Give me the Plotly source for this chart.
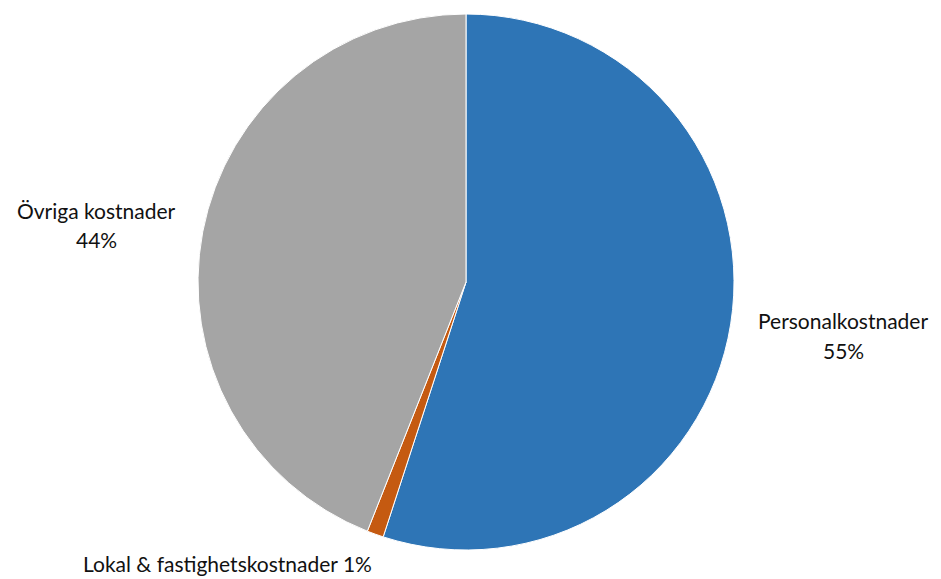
import plotly.graph_objects as go

categories = ["Personalkostnader", "Lokal & fastighetskostnader", "Övriga kostnader"]
values = [55, 1, 44]
colors = ["#2E75B6", "#C55A11", "#A5A5A5"]

W, H = 941, 579
OFF = 8  # page body margin offset
cx, cy, r = 466 - OFF, 282 - OFF, 268

fig = go.Figure(go.Pie(
    labels=categories,
    values=values,
    sort=False,
    direction="clockwise",
    rotation=0,
    marker=dict(colors=colors, line=dict(color="white", width=1)),
    textinfo="none",
    hoverinfo="label+percent",
    domain=dict(x=[(cx - r) / W, (cx + r) / W], y=[1 - (cy + r) / H, 1 - (cy - r) / H]),
    showlegend=False,
))

font = dict(family="Lato, Carlito, 'Open Sans', sans-serif", size=21, color="#111111")
total = sum(values)
pct = [f"{round(v / total * 100)}%" for v in values]

def ann(text, x, y):
    fig.add_annotation(text=text, x=(x - OFF) / W, y=1 - (y - OFF) / H, xref="paper", yref="paper",
                       showarrow=False, font=font, xanchor="center", yanchor="middle")

# Personalkostnader (right, two lines)
ann(categories[0], 843, 320)
ann(pct[0], 843, 350)
# Övriga kostnader (left, two lines)
ann(categories[2], 96, 210)
ann(pct[2], 96, 240)
# Lokal (bottom, one line)
ann(f"{categories[1]} {pct[1]}", 227, 563)

fig.update_layout(width=W, height=H, margin=dict(l=0, r=0, t=0, b=0),
                  paper_bgcolor="white", plot_bgcolor="white")
fig.write_html("out.html")
